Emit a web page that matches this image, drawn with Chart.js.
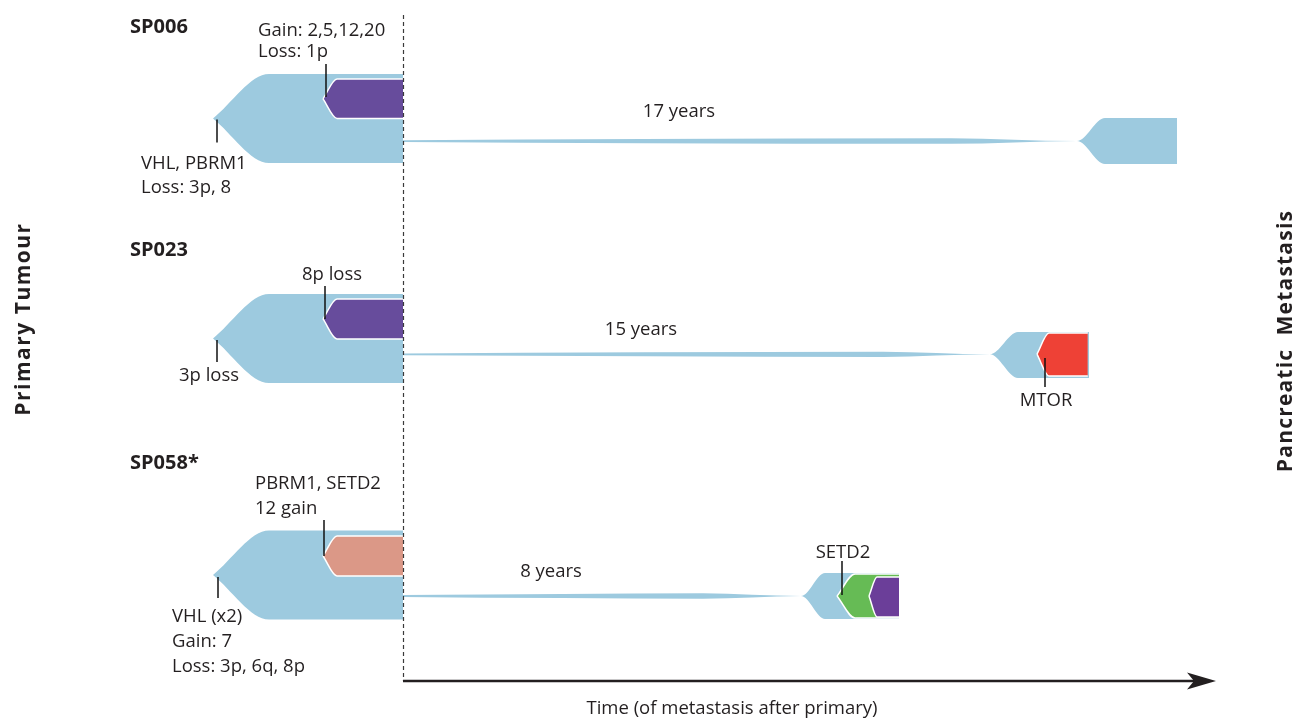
<!DOCTYPE html>
<html>
<head>
<meta charset="utf-8">
<script src="https://cdn.jsdelivr.net/npm/chart.js@4.4.1/dist/chart.umd.min.js"></script>
<style>
  html, body { margin: 0; padding: 0; background: #ffffff; }
  #wrap { position: relative; width: 1301px; height: 721px; }
</style>
</head>
<body>
<div id="wrap"><canvas id="fish" width="1301" height="721"></canvas></div>
<script>
// ---------------- data ----------------
// Time is schematic (0 = resection of the primary tumour).
// Clone extents are given as offsets from each sample's centre line,
// in units of the primary tumour's half-height (positive = upwards).

const sampleNames = ['SP006', 'SP023', 'SP058*'];
const yearsToMetastasis = ['17 years', '15 years', '8 years'];

// founding (trunk) clone of every primary tumour
const primaryTime  = [-4.75, -3.35, 0];
const primaryUpper = [0, 1, 1];
const primaryLower = [0, -1, -1];

// SP006
const sp006SubTime  = [-2.0, -1.65, 0];
const sp006SubUpper = [0.44, 0.89, 0.89];
const sp006SubLower = [0.44, 0.0, 0.0];
const sp006MetTime  = [0, 6, 13.7, 16.85, 17.55, 19.35];
const sp006MetUpper = [-0.486, -0.458, -0.442, -0.506, 0.011, 0.011];
const sp006MetLower = [-0.526, -0.554, -0.570, -0.506, -1.023, -1.023];

// SP023
const sp023SubTime  = [-2.0, -1.65, 0];
const sp023SubUpper = [0.44, 0.89, 0.89];
const sp023SubLower = [0.44, -0.01, -0.01];
const sp023MetTime  = [0, 6, 12, 14.675, 15.375, 17.15];
const sp023MetUpper = [-0.335, -0.31, -0.295, -0.355, 0.146, 0.146];
const sp023MetLower = [-0.375, -0.40, -0.415, -0.355, -0.888, -0.888];
const sp023MtorTime  = [15.85, 16.15, 17.12];
const sp023MtorUpper = [-0.35, 0.124, 0.124];
const sp023MtorLower = [-0.35, -0.843, -0.843];

// SP058*
const sp058SubTime  = [-2.0, -1.65, 0];
const sp058SubUpper = [0.427, 0.876, 0.876];
const sp058SubLower = [0.427, -0.022, -0.022];
const sp058MetTime  = [0, 4, 7.5, 9.95, 10.55, 12.4];
const sp058MetUpper = [-0.452, -0.425, -0.41, -0.472, 0.045, 0.045];
const sp058MetLower = [-0.492, -0.519, -0.534, -0.472, -0.989, -0.989];
const sp058Setd2Time  = [10.85, 11.3, 12.4];
const sp058Setd2Upper = [-0.472, 0.022, 0.022];
const sp058Setd2Lower = [-0.472, -0.966, -0.966];
const sp058LateTime  = [11.65, 11.85, 12.4];
const sp058LateUpper = [-0.472, -0.045, -0.045];
const sp058LateLower = [-0.472, -0.944, -0.944];

// where the "N years" captions sit along each metastasis branch
const yearsLabelTime = [6.9, 5.95, 3.7];

// ---------------- layout & style ----------------
const rowCentre = [2.663, 7.607, 12.921];          // centre line of each sample (y units)
const sampleLabelBaseline = [33, 256, 469];         // px
const yearsLabelLift = [24, 19, 19];                // px above the branch

const COL = {
  trunk: '#9dcadf',
  purple: '#674c9c',
  salmon: '#db9887',
  red: '#ee4136',
  green: '#66bb55',
  violet: '#6b3e99',
  ink: '#231f20'
};
const FONT = '"Open Sans", "Noto Sans", sans-serif';
const TEXT_SIZE = '18.5px ';

// ---------------- datasets ----------------
const datasets = [];
const cloneIndex = {};

function edge(row, times, offsets) {
  return times.map((t, i) => ({ x: t, y: rowCentre[row] - offsets[i] }));
}

function addClone(key, row, times, upper, lower, colour, layer, outlined) {
  const common = {
    pointRadius: 0,
    pointHitRadius: 0,
    cubicInterpolationMode: 'monotone',
    borderWidth: outlined ? 1.5 : 1,
    borderColor: outlined ? '#ffffff' : 'rgba(0,0,0,0)',
    order: layer
  };
  cloneIndex[key] = datasets.length;
  datasets.push(Object.assign({}, common, { label: key + ' upper', data: edge(row, times, upper), fill: false }));
  datasets.push(Object.assign({}, common, { label: key + ' lower', data: edge(row, times, lower), fill: '-1', backgroundColor: colour }));
}

// SP006
addClone('sp006Primary', 0, primaryTime, primaryUpper, primaryLower, COL.trunk, 5, false);
addClone('sp006Sub', 0, sp006SubTime, sp006SubUpper, sp006SubLower, COL.purple, 4, true);
addClone('sp006Met', 0, sp006MetTime, sp006MetUpper, sp006MetLower, COL.trunk, 5, false);
// SP023
addClone('sp023Primary', 1, primaryTime, primaryUpper, primaryLower, COL.trunk, 5, false);
addClone('sp023Sub', 1, sp023SubTime, sp023SubUpper, sp023SubLower, COL.purple, 4, true);
addClone('sp023Met', 1, sp023MetTime, sp023MetUpper, sp023MetLower, COL.trunk, 5, false);
addClone('sp023Mtor', 1, sp023MtorTime, sp023MtorUpper, sp023MtorLower, COL.red, 4, true);
// SP058*
addClone('sp058Primary', 2, primaryTime, primaryUpper, primaryLower, COL.trunk, 5, false);
addClone('sp058Sub', 2, sp058SubTime, sp058SubUpper, sp058SubLower, COL.salmon, 4, true);
addClone('sp058Met', 2, sp058MetTime, sp058MetUpper, sp058MetLower, COL.trunk, 5, false);
addClone('sp058Setd2', 2, sp058Setd2Time, sp058Setd2Upper, sp058Setd2Lower, COL.green, 4, true);
addClone('sp058Late', 2, sp058LateTime, sp058LateUpper, sp058LateLower, COL.violet, 3, true);

// event annotations, anchored at the tip (origin) of a clone
const events = [
  { clone: 'sp006Primary', tick: [4, 1, 24],   lines: ['VHL, PBRM1', 'Loss: 3p, 8'], align: 'left', dx: -72, dy: 50.5, gap: 24 },
  { clone: 'sp006Sub',     tick: [3, -2, -35], lines: ['Gain: 2,5,12,20', 'Loss: 1p'], align: 'left', dx: -65, dy: -63, gap: 21 },
  { clone: 'sp023Primary', tick: [4, 1.5, 23.5], lines: ['3p loss'], align: 'left', dx: -34, dy: 42.5, gap: 0 },
  { clone: 'sp023Sub',     tick: [2, 0, -33],  lines: ['8p loss'], align: 'left', dx: -21, dy: -39, gap: 0 },
  { clone: 'sp023Mtor',    tick: [8, 4, 33],   lines: ['MTOR'], align: 'center', dx: 9, dy: 52, gap: 0 },
  { clone: 'sp058Primary', tick: [5, 2, 23],   lines: ['VHL (x2)', 'Gain: 7', 'Loss: 3p, 6q, 8p'], align: 'left', dx: -41, dy: 47, gap: 25 },
  { clone: 'sp058Sub',     tick: [1, 0, -36],  lines: ['PBRM1, SETD2', '12 gain'], align: 'left', dx: -68, dy: -67, gap: 25 },
  { clone: 'sp058Setd2',   tick: [5, -1, -35], lines: ['SETD2'], align: 'center', dx: 6, dy: -38, gap: 0 }
];
const metKeys = ['sp006Met', 'sp023Met', 'sp058Met'];

// ---------------- annotation plugin ----------------
const fishAnnotations = {
  id: 'fishAnnotations',
  afterDatasetsDraw(chart) {
    const { ctx, scales } = chart;
    const xs = scales.x;
    const x0 = xs.getPixelForValue(0);
    const axisY = 681;

    ctx.save();
    // resection line
    ctx.strokeStyle = '#3a3a3a';
    ctx.lineWidth = 1.2;
    ctx.setLineDash([4, 3]);
    ctx.beginPath();
    ctx.moveTo(x0 + 0.5, 15);
    ctx.lineTo(x0 + 0.5, axisY);
    ctx.stroke();
    ctx.setLineDash([]);

    // time arrow
    ctx.strokeStyle = COL.ink;
    ctx.fillStyle = COL.ink;
    ctx.lineWidth = 2.4;
    ctx.beginPath();
    ctx.moveTo(x0, axisY);
    ctx.lineTo(1200, axisY);
    ctx.stroke();
    ctx.beginPath();
    ctx.moveTo(1216, axisY);
    ctx.lineTo(1187, axisY - 8.5);
    ctx.lineTo(1194, axisY);
    ctx.lineTo(1187, axisY + 8.5);
    ctx.closePath();
    ctx.fill();

    ctx.fillStyle = COL.ink;
    ctx.font = TEXT_SIZE + FONT;
    ctx.textAlign = 'center';
    ctx.textBaseline = 'alphabetic';
    ctx.fillText('Time (of metastasis after primary)', 732, 714);

    // side titles
    ctx.font = 'bold 21px ' + FONT;
    ctx.textBaseline = 'middle';
    ctx.save();
    ctx.letterSpacing = '1.5px';
    ctx.translate(24, 319);
    ctx.rotate(-Math.PI / 2);
    ctx.fillText('Primary Tumour', 0, 0);
    ctx.restore();
    ctx.save();
    ctx.letterSpacing = '1.2px';
    ctx.translate(1286, 341);
    ctx.rotate(-Math.PI / 2);
    ctx.fillText('Pancreatic  Metastasis', 0, 0);
    ctx.restore();

    // sample names
    ctx.textBaseline = 'alphabetic';
    ctx.textAlign = 'left';
    ctx.font = 'bold 20px ' + FONT;
    sampleNames.forEach((name, i) => ctx.fillText(name, 130, sampleLabelBaseline[i]));

    // years along each metastasis branch
    ctx.font = TEXT_SIZE + FONT;
    ctx.textAlign = 'center';
    metKeys.forEach((key, i) => {
      const pts = chart.getDatasetMeta(cloneIndex[key]).data;
      const tailY = pts[0].y;
      ctx.fillText(yearsToMetastasis[i], xs.getPixelForValue(yearsLabelTime[i]), tailY + 1 - yearsLabelLift[i]);
    });

    // event ticks and labels
    events.forEach(ev => {
      const up = chart.getDatasetMeta(cloneIndex[ev.clone]).data[0];
      const lo = chart.getDatasetMeta(cloneIndex[ev.clone] + 1).data[0];
      const tx = up.x, ty = (up.y + lo.y) / 2;
      ctx.strokeStyle = '#111111';
      ctx.lineWidth = 1.5;
      ctx.beginPath();
      ctx.moveTo(tx + ev.tick[0], ty + ev.tick[1]);
      ctx.lineTo(tx + ev.tick[0], ty + ev.tick[2]);
      ctx.stroke();
      ctx.fillStyle = COL.ink;
      ctx.font = TEXT_SIZE + FONT;
      ctx.textAlign = ev.align;
      ev.lines.forEach((line, k) => ctx.fillText(line, tx + ev.dx, ty + ev.dy + k * ev.gap));
    });
    ctx.restore();
  }
};

// ---------------- chart ----------------
new Chart(document.getElementById('fish'), {
  type: 'line',
  data: { datasets },
  options: {
    responsive: false,
    animation: false,
    events: [],
    layout: { padding: 0 },
    plugins: { legend: { display: false }, tooltip: { enabled: false } },
    scales: {
      x: { type: 'linear', min: -10.075, max: 22.45, display: false },
      y: { type: 'linear', min: 0, max: 721 / 44.5, reverse: true, display: false }
    }
  },
  plugins: [fishAnnotations]
});
</script>
</body>
</html>
